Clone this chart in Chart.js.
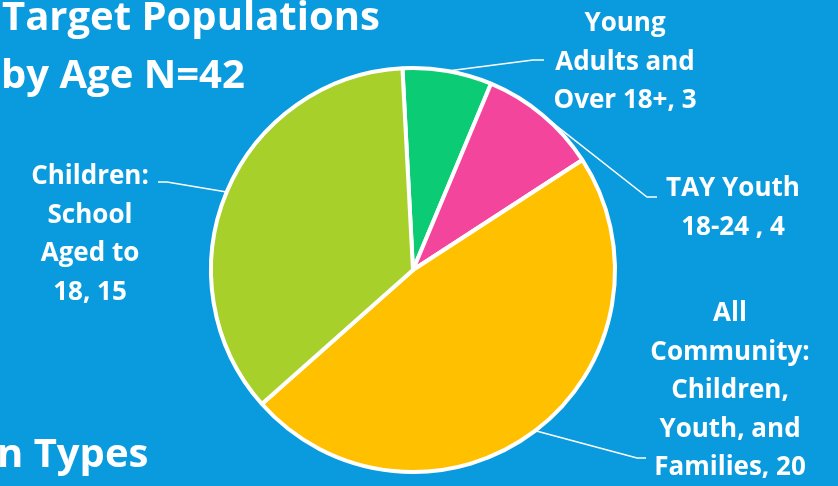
<!DOCTYPE html>
<html>
<head>
<meta charset="utf-8">
<script src="https://cdn.jsdelivr.net/npm/chart.js@4"></script>
<style>
  html, body { margin: 0; padding: 0; background: #0A9BDE; }
  #wrap { position: relative; width: 838px; height: 486px; overflow: hidden; }
</style>
</head>
<body>
<div id="wrap"><canvas id="pieChart" width="838" height="486"></canvas></div>
<script>
// Target populations by age, N=42
const labels = [
    ['Young', 'Adults and', 'Over 18+, 3'],
    ['TAY Youth', '18-24 , 4'],
    ['All', 'Community:', 'Children,', 'Youth, and', 'Families, 20'],
    ['Children:', 'School', 'Aged to', '18, 15']
];
const values = [3, 4, 20, 15];
const colors = ['#0BCC74', '#F3459C', '#FFC000', '#A8D02A'];

// where each label block sits (text centre x, first line y) and the elbow of its leader
const labelSpots = [
    { x: 625, y: 24, elbowX: 533, elbowY: 60, endX: 544 },
    { x: 733, y: 189, elbowX: 647, elbowY: 197, endX: 657 },
    { x: 730, y: 314, elbowX: 637, elbowY: 458, endX: 646 },
    { x: 90, y: 177, elbowX: 167, elbowY: 182, endX: 158 }
];
const lineGap = 38.5;
const labelFont = 'bold 26px "Open Sans", Lato, sans-serif';

const sliceLabels = {
    id: 'sliceLabels',
    afterDatasetsDraw(chart) {
        const ctx = chart.ctx;
        const arcs = chart.getDatasetMeta(0).data;
        ctx.save();
        // titles from the slide behind the chart
        ctx.fillStyle = '#FFFFFF';
        ctx.font = 'bold 40px "Open Sans", Lato, sans-serif';
        ctx.textAlign = 'left';
        ctx.textBaseline = 'middle';
        ctx.fillText('Target Populations', 2, 19);
        ctx.fillText('by Age N=42', 1, 77);
        ctx.fillText('n Types', -3, 456);

        arcs.forEach((arc, i) => {
            const spot = labelSpots[i];
            const mid = (arc.startAngle + arc.endAngle) / 2;
            const sx = arc.x + Math.cos(mid) * arc.outerRadius;
            const sy = arc.y + Math.sin(mid) * arc.outerRadius;
            ctx.strokeStyle = '#FFFFFF';
            ctx.lineWidth = 1.5;
            ctx.beginPath();
            ctx.moveTo(sx, sy);
            ctx.lineTo(spot.elbowX, spot.elbowY);
            ctx.lineTo(spot.endX, spot.elbowY);
            ctx.stroke();

            ctx.font = labelFont;
            ctx.textAlign = 'center';
            ctx.textBaseline = 'middle';
            labels[i].forEach((line, j) => {
                ctx.fillText(line, spot.x, spot.y + j * lineGap);
            });
        });
        ctx.restore();
    }
};

new Chart(document.getElementById('pieChart'), {
    type: 'pie',
    data: {
        labels: labels.map(l => l.join(' ')),
        datasets: [{
            data: values,
            backgroundColor: colors,
            borderColor: '#FFFFFF',
            borderWidth: 4
        }]
    },
    options: {
        responsive: false,
        animation: false,
        rotation: -3,
        layout: {
            padding: { top: 66, bottom: 12, left: 209, right: 221 }
        },
        plugins: {
            legend: { display: false },
            tooltip: { enabled: false }
        }
    },
    plugins: [sliceLabels]
});
</script>
</body>
</html>
